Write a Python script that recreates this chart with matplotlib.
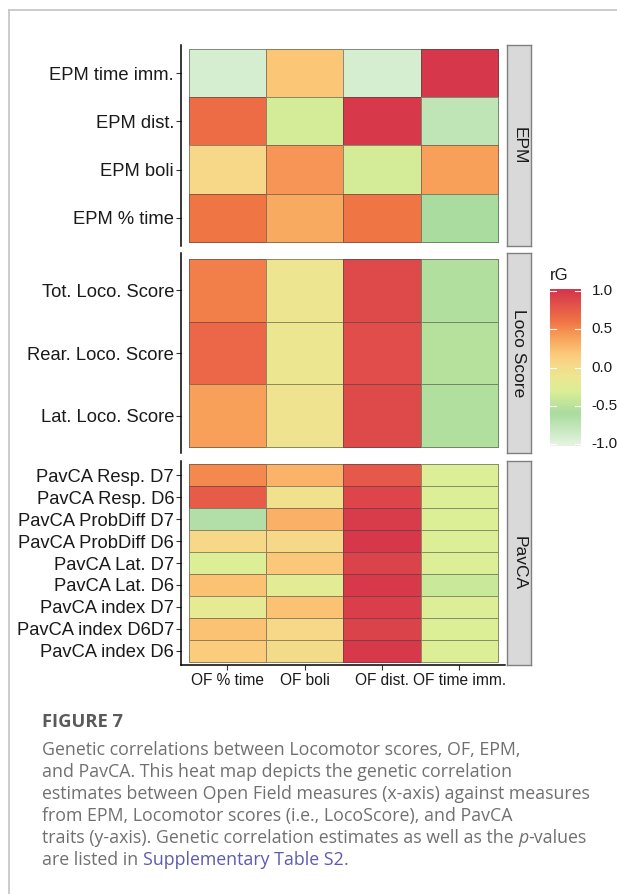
import numpy as np
import matplotlib
matplotlib.use("Agg")
import matplotlib.pyplot as plt
from matplotlib.colors import LinearSegmentedColormap
from matplotlib.lines import Line2D

# columns (x-axis) and row labels per facet
of_cols = ["OF % time", "OF boli", "OF dist.", "OF time imm."]

epm_rows = ["EPM time imm.", "EPM dist.", "EPM boli", "EPM % time"]
epm_vals = [
    [-0.90, 0.20, -0.90, 1.00],
    [0.65, -0.35, 0.98, -0.75],
    [0.05, 0.45, -0.35, 0.40],
    [0.60, 0.35, 0.60, -0.60],
]

loco_rows = ["Tot. Loco. Score", "Rear. Loco. Score", "Lat. Loco. Score"]
loco_vals = [
    [0.55, -0.10, 0.88, -0.55],
    [0.68, -0.12, 0.85, -0.52],
    [0.40, -0.08, 0.88, -0.55],
]

pav_rows = ["PavCA Resp. D7", "PavCA Resp. D6", "PavCA ProbDiff D7",
            "PavCA ProbDiff D6", "PavCA Lat. D7", "PavCA Lat. D6",
            "PavCA index D7", "PavCA index D6D7", "PavCA index D6"]
pav_vals = [
    [0.50, 0.30, 0.78, -0.30],
    [0.75, -0.05, 0.90, -0.30],
    [-0.65, 0.32, 0.97, -0.30],
    [0.05, 0.05, 1.00, -0.30],
    [-0.30, 0.18, 0.92, -0.30],
    [0.22, -0.22, 0.98, -0.40],
    [-0.20, 0.22, 0.95, -0.30],
    [0.22, 0.05, 0.92, -0.30],
    [0.15, 0.02, 0.98, -0.30],
]

cbar_ticks = [1.0, 0.5, 0.0, -0.5, -1.0]

stops = [(-1.0, "#E3F3DF"), (-0.6, "#A9DC9E"), (-0.3, "#DCEF96"),
         (-0.1, "#EEE590"), (0.05, "#F6D888"), (0.2, "#FCC677"),
         (0.4, "#F8A05A"), (0.6, "#F07545"), (0.8, "#E4554A"),
         (1.0, "#D6374A")]
cmap = LinearSegmentedColormap.from_list(
    "rg", [((v + 1) / 2, c) for v, c in stops])

W, H = 617, 894
fig = plt.figure(figsize=(W / 100, H / 100), dpi=100)
fig.patch.set_facecolor("white")


def box(x0, y0, x1, y1):
    return [x0 / W, 1 - y1 / H, (x1 - x0) / W, (y1 - y0) / H]


# page frame (left and top rules)
fig.add_artist(Line2D([9 / W, 9 / W], [0, 1 - 9.5 / H], color="#c8c8c8", lw=1.3))
fig.add_artist(Line2D([9 / W, 1], [1 - 9.5 / H, 1 - 9.5 / H], color="#c8c8c8", lw=1.3))

label_font = "Liberation Sans"
panels = [
    ("EPM", epm_rows, epm_vals, (45, 246), 0.083),
    ("Loco Score", loco_rows, loco_vals, (253, 453), 0.09),
    ("PavCA", pav_rows, pav_vals, (461, 665), 0.14),
]

for i, (name, rows, vals, (ytop, ybot), pad) in enumerate(panels):
    ax = fig.add_axes(box(181, ytop, 505.5, ybot))
    n = len(rows)
    ax.pcolormesh(np.arange(5), np.arange(n + 1), np.array(vals), cmap=cmap,
                  vmin=-1, vmax=1, edgecolors=(0.25, 0.25, 0.25, 0.55),
                  linewidth=0.6)
    ax.set_xlim(-0.1, 4.1)
    ax.set_ylim(n + pad, -pad)
    ax.set_yticks(np.arange(n) + 0.5)
    ax.set_yticklabels(rows, fontsize=13.2, family=label_font, color="#1a1a1a")
    for s in ["top", "right"]:
        ax.spines[s].set_visible(False)
    ax.spines["left"].set_linewidth(1.1)
    ax.tick_params(axis="y", length=3.5, width=0.8, pad=1.5, color="#333333")
    if i == 2:
        ax.set_xticks(np.arange(4) + 0.5)
        ax.set_xticklabels(of_cols, fontsize=11.2, family=label_font, color="#1a1a1a")
        ax.tick_params(axis="x", length=3.5, width=0.8, pad=2, color="#333333")
        ax.spines["bottom"].set_linewidth(1.1)
    else:
        ax.set_xticks([])
        ax.spines["bottom"].set_visible(False)

    # facet strip
    sax = fig.add_axes(box(506.5, ytop, 531, ybot))
    sax.set_facecolor("#D9D9D9")
    sax.set_xticks([])
    sax.set_yticks([])
    for s in sax.spines.values():
        s.set_color("#808080")
        s.set_linewidth(1.0)
    sax.text(0.5, 0.5, name, rotation=-90, ha="center", va="center",
             fontsize=12.5, family=label_font, color="#1a1a1a",
             transform=sax.transAxes)

# colour bar
cax = fig.add_axes(box(550, 289, 581, 446))
grad = np.linspace(-1.02, 1.02, 256).reshape(-1, 1)
cax.imshow(grad, cmap=cmap, vmin=-1, vmax=1, aspect="auto", origin="lower",
           extent=(0, 1, -1.02, 1.02))
cax.set_xlim(0, 1)
cax.set_ylim(-1.02, 1.02)
cax.axis("off")
for t in cbar_ticks:
    cax.plot([0, 0.2], [t, t], color="white", lw=0.8)
    cax.plot([0.8, 1], [t, t], color="white", lw=0.8)
    cax.text(1.35, t, "%.1f" % t, fontsize=11, family=label_font,
             color="#1a1a1a", ha="left", va="center", transform=cax.transData)
fig.text(550 / W, 1 - 276 / H, "rG", fontsize=12, family=label_font,
         color="#1a1a1a", ha="left", va="center")

# caption
cap_font = "Open Sans"
cap_color = "#707070"
link_color = "#5b5bb0"
fs = 12.8
x0 = 42 / W
fig.text(x0, 1 - 727 / H, "FIGURE 7", fontsize=13.2, family=cap_font,
         weight="bold", color="#5a5a5a", ha="left", va="baseline")

lines = [
    [("Genetic correlations between Locomotor scores, OF, EPM,", {})],
    [("and PavCA. This heat map depicts the genetic correlation", {})],
    [("estimates between Open Field measures (x-axis) against measures", {})],
    [("from EPM, Locomotor scores (i.e., LocoScore), and PavCA", {})],
    [("traits (y-axis). Genetic correlation estimates as well as the ", {}),
     ("p", {"style": "italic"}), ("-values", {})],
    [("are listed in ", {}), ("Supplementary Table S2", {"color": link_color}),
     (".", {})],
]
renderer = fig.canvas.get_renderer()
for k, parts in enumerate(lines):
    yb = 1 - (755 + 22 * k) / H
    x = x0
    for txt, kw in parts:
        opts = dict(fontsize=fs, family=cap_font, color=cap_color,
                    ha="left", va="baseline")
        opts.update(kw)
        t = fig.text(x, yb, txt, **opts)
        # advance by the rendered width
        x += t.get_window_extent(renderer).width / W

fig.savefig("out.png", dpi=100)
